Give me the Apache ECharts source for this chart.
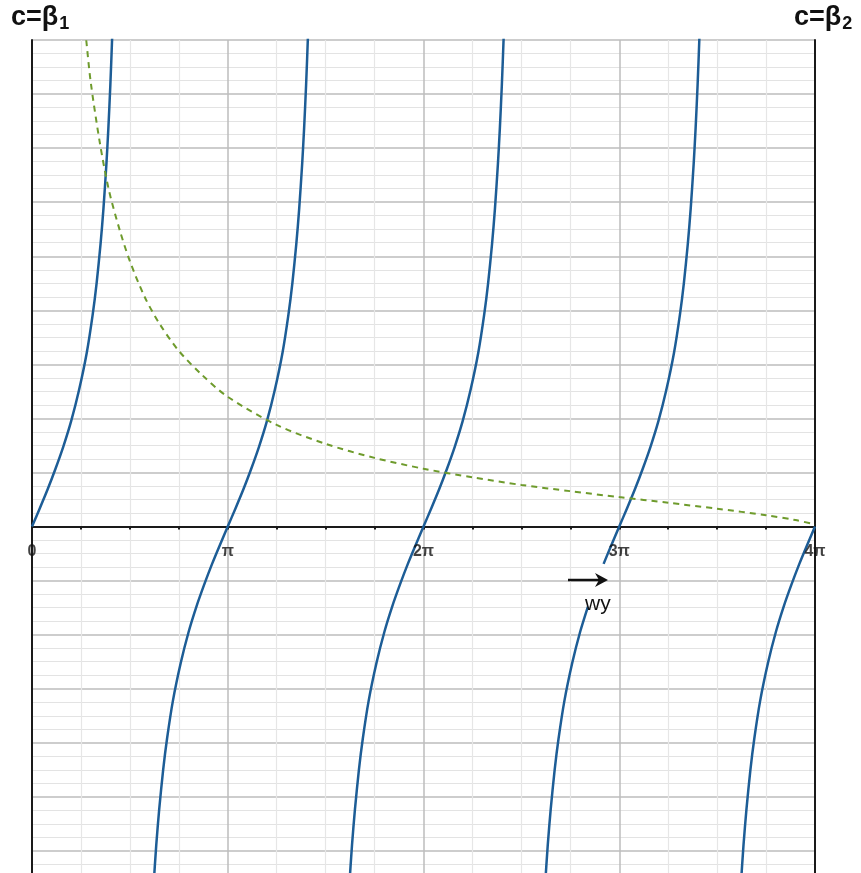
<!DOCTYPE html>
<html>
<head>
<meta charset="utf-8">
<script src="https://cdn.jsdelivr.net/npm/echarts@6/dist/echarts.min.js"></script>
<style>
  html, body { margin: 0; padding: 0; background: #fff; }
  #chart { width: 861px; height: 873px; }
</style>
</head>
<body>
<div id="chart"></div>
<script>
// x is measured in units of π (wy / π); y in grid units.
const xTickLabels = ['0', 'π', '2π', '3π', '4π'];

// One branch of the tan-like curve, right half: offset from kπ and height.
// The left half of each branch is the mirror image (odd function).
const branchOffset = [0, 0.04, 0.08, 0.12, 0.16, 0.20, 0.24, 0.28, 0.31, 0.33, 0.35, 0.365, 0.38, 0.39, 0.40, 0.41, 0.42];
const branchValue  = [0, 0.34, 0.69, 1.07, 1.48, 1.95, 2.52, 3.22, 3.92, 4.50, 5.22, 5.88,  6.70, 7.36, 8.15, 9.10, 10.3];
const branchCentres = [0, 1, 2, 3, 4];

// The curve left of 3π is interrupted beneath the "wy" label, between these offsets.
const labelGapBranch = 3;
const labelGapOffsets = [0.08, 0.16];

// Dashed decreasing curve c(wy)
const cX = [0.265, 0.277, 0.30, 0.347, 0.393, 0.45, 0.50, 0.574, 0.65, 0.75, 0.87, 1.0,  1.25, 1.5,  1.75, 2.0,  2.25, 2.5,  2.75,  3.0,   3.25, 3.5,  3.75, 3.9,  4.0];
const cY = [9.4,   9.0,   8.22, 7.09,  6.22,  5.46, 4.91, 4.26,  3.76, 3.25, 2.80, 2.40, 1.88, 1.53, 1.27, 1.07, 0.91, 0.77, 0.655, 0.545, 0.44, 0.33, 0.21, 0.12, 0.04];

function buildBranch(k) {
  const pts = [];
  // left half (mirrored), from the far left towards the centre
  if (k > 0) {
    for (let i = branchOffset.length - 1; i > 0; i--) {
      const off = branchOffset[i];
      if (k === labelGapBranch && off > labelGapOffsets[0] && off < labelGapOffsets[1]) continue;
      pts.push([k - off, -branchValue[i]]);
      if (k === labelGapBranch && off === labelGapOffsets[1]) pts.push(null);
    }
  }
  pts.push([k, 0]);
  if (k < 4) {
    for (let i = 1; i < branchOffset.length; i++) {
      pts.push([k + branchOffset[i], branchValue[i]]);
    }
  }
  return pts.map(p => p === null ? [null, null] : p);
}

const blue = '#1d5d96';
const green = '#6e9b2c';
const font = 'Liberation Sans, Arial, sans-serif';

const series = branchCentres.map(k => ({
  type: 'line',
  data: buildBranch(k),
  smooth: 0.25,
  connectNulls: false,
  showSymbol: false,
  clip: true,
  lineStyle: { color: blue, width: 2.5 },
  z: 3
}));

series.push({
  type: 'line',
  data: cX.map((x, i) => [x, cY[i]]),
  smooth: 0.3,
  showSymbol: false,
  clip: true,
  lineStyle: { color: green, width: 2, type: [6, 5] },
  z: 4
});

// tick labels along the zero line
series.push({
  type: 'scatter',
  data: xTickLabels.map((s, i) => [i, 0]),
  symbolSize: 0,
  silent: true,
  z: 6,
  label: {
    show: true,
    position: 'bottom',
    distance: 17,
    fontFamily: font,
    fontSize: 16,
    fontWeight: 'bold',
    color: '#111',
    formatter: p => xTickLabels[p.dataIndex]
  }
});

const titleRich = {
  a: { fontFamily: font, fontSize: 27, fontWeight: 'bold', fill: '#111' },
  s: { fontFamily: font, fontSize: 18, fontWeight: 'bold', fill: '#111', padding: [14, 0, 0, 1] }
};

const chart = echarts.init(document.getElementById('chart'), null, { renderer: 'canvas' });
chart.setOption({
  animation: false,
  backgroundColor: '#fff',
  grid: { left: 32, top: 40, width: 783, height: 865, containLabel: false, outerBoundsMode: 'none' },
  xAxis: {
    type: 'value',
    min: 0, max: 4, interval: 1,
    axisLine: { onZero: true, lineStyle: { color: '#1a1a1a', width: 2 } },
    axisTick: { show: true, length: 3, lineStyle: { color: '#1a1a1a', width: 2 } },
    minorTick: { show: true, splitNumber: 4, length: 3, lineStyle: { color: '#1a1a1a', width: 2 } },
    splitLine: { show: true, lineStyle: { color: '#bdbdbd', width: 1.5 } },
    minorSplitLine: { show: true, lineStyle: { color: '#e6e6e6', width: 1.2 } },
    axisLabel: { show: false }
  },
  yAxis: [{
    type: 'value',
    min: -7, max: 9, interval: 1,
    axisLine: { show: true, onZero: false, lineStyle: { color: '#1a1a1a', width: 2 } },
    axisTick: { show: false },
    axisLabel: { show: false },
    splitLine: { show: true, lineStyle: { color: '#bdbdbd', width: 1.5 } },
    minorTick: { show: false, splitNumber: 4 },
    minorSplitLine: { show: true, lineStyle: { color: '#e3e3e3', width: 1.2 } }
  }, {
    type: 'value',
    position: 'right',
    min: -7, max: 9, interval: 1,
    axisLine: { show: true, onZero: false, lineStyle: { color: '#1a1a1a', width: 2 } },
    axisTick: { show: false },
    axisLabel: { show: false },
    splitLine: { show: false }
  }],
  graphic: [
    {
      type: 'text', left: 11, top: 4, z: 10,
      style: { text: '{a|c=β}{s|1}', rich: titleRich }
    },
    {
      type: 'text', left: 794, top: 4, z: 10,
      style: { text: '{a|c=β}{s|2}', rich: titleRich }
    },
    {
      type: 'line', z: 10,
      shape: { x1: 568, y1: 580, x2: 600, y2: 580 },
      style: { stroke: '#111', lineWidth: 2.5 }
    },
    {
      type: 'polygon', z: 10,
      shape: { points: [[595, 573], [608, 580], [595, 587], [599, 580]] },
      style: { fill: '#111' }
    },
    {
      type: 'text', left: 585, top: 594, z: 10,
      style: { text: 'wy', fontFamily: font, fontSize: 21, fill: '#111' }
    }
  ],
  series: series
});
</script>
</body>
</html>
